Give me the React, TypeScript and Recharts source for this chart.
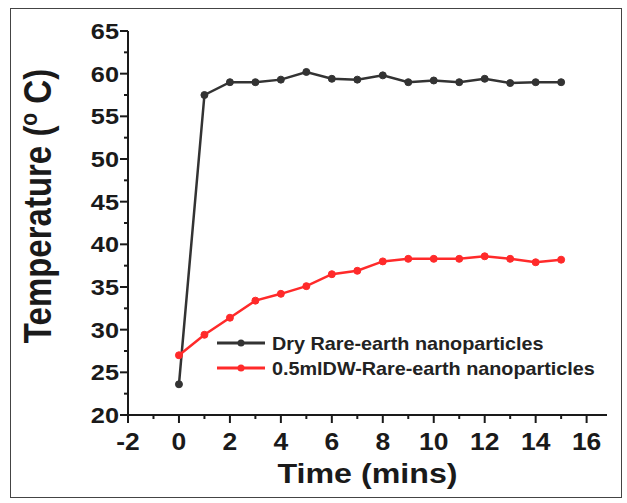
import React from 'react';
import { LineChart, Line, XAxis, YAxis, Legend } from 'recharts';

const times = [0, 1, 2, 3, 4, 5, 6, 7, 8, 9, 10, 11, 12, 13, 14, 15];
const dryTemps = [23.6, 57.5, 59.0, 59.0, 59.3, 60.2, 59.4, 59.3, 59.8, 59.0, 59.2, 59.0, 59.4, 58.9, 59.0, 59.0];
const wetTemps = [27.0, 29.4, 31.4, 33.4, 34.2, 35.1, 36.5, 36.9, 38.0, 38.3, 38.3, 38.3, 38.6, 38.3, 37.9, 38.2];
const xTicks = [-2, -1, 0, 1, 2, 3, 4, 5, 6, 7, 8, 9, 10, 11, 12, 13, 14, 15, 16];
const yTicks = [20, 22.5, 25, 27.5, 30, 32.5, 35, 37.5, 40, 42.5, 45, 47.5, 50, 52.5, 55, 57.5, 60, 62.5, 65];
const seriesNames = ['Dry Rare-earth nanoparticles', '0.5mlDW-Rare-earth nanoparticles'];
const seriesColors = ['#333333', '#ff2a2a'];

const data = times.map((t, i) => ({ t, dry: dryTemps[i], wet: wetTemps[i] }));

const FONT = 'Liberation Sans, Arial, sans-serif';
const AX = '#1a1a1a';
const SX = 1.15;

const XTick = (props: any) => {
  const { x, y, payload } = props;
  const v = payload.value;
  const major = v % 2 === 0;
  return (
    <g>
      <line x1={x} x2={x} y1={y} y2={y + (major ? 8 : 4)} stroke={AX} strokeWidth={2} />
      {major && (
        <text
          transform={`translate(${x},${y + 35}) scale(${SX},1)`}
          textAnchor="middle"
          fontFamily={FONT}
          fontWeight="bold"
          fontSize={23}
          fill={AX}
        >
          {v}
        </text>
      )}
    </g>
  );
};

const YTick = (props: any) => {
  const { x, y, payload } = props;
  const v = payload.value;
  const major = v % 5 === 0;
  return (
    <g>
      <line x1={x} x2={x - (major ? 8 : 4)} y1={y} y2={y} stroke={AX} strokeWidth={2} />
      {major && (
        <text
          transform={`translate(${x - 9},${y + 8}) scale(${SX},1)`}
          textAnchor="end"
          fontFamily={FONT}
          fontWeight="bold"
          fontSize={22}
          fill={AX}
        >
          {v}
        </text>
      )}
    </g>
  );
};

const YLabel = () => (
  <text
    transform={`translate(51,206) scale(${SX},1) rotate(-90)`}
    textAnchor="middle"
    fontFamily={FONT}
    fontWeight="bold"
    fontSize={33}
    fill={AX}
  >
    Temperature (
    <tspan fontSize={21} dy={-12}>o</tspan>
    <tspan dy={12}> C)</tspan>
  </text>
);

const XLabel = (props: any) => {
  const vb = props.viewBox || {};
  const cx = (vb.x || 0) + (vb.width || 0) / 2;
  return (
    <text
      transform={`translate(${cx},483) scale(${SX},1)`}
      textAnchor="middle"
      fontFamily={FONT}
      fontWeight="bold"
      fontSize={28}
      fill={AX}
    >
      Time (mins)
    </text>
  );
};

const LegendContent = () => (
  <svg width={380} height={60} style={{ overflow: 'visible' }}>
    {seriesNames.map((name, i) => {
      const cy = 15 + i * 25;
      return (
        <g key={name}>
          <line x1={7} x2={55} y1={cy} y2={cy} stroke={seriesColors[i]} strokeWidth={3} />
          <circle cx={31} cy={cy} r={3.5} fill={seriesColors[i]} />
          <text
            transform={`translate(62,${cy + 6.5}) scale(1.1,1)`}
            fontFamily={FONT}
            fontWeight="bold"
            fontSize={18}
            fill="#222"
          >
            {name}
          </text>
        </g>
      );
    })}
  </svg>
);

export default function App() {
  return (
    <div style={{ position: 'absolute', left: 0, top: 0, width: 627, height: 503, background: '#fff' }}>
      <div
        style={{
          position: 'absolute',
          left: 10,
          top: 8,
          width: 610,
          height: 488,
          border: '1.5px solid #444',
        }}
      />
      <div style={{ position: 'absolute', left: 0, top: 0 }}>
        <LineChart width={627} height={503} data={data} margin={{ top: 31, right: 20, bottom: 0, left: 0 }}>
          <XAxis
            dataKey="t"
            type="number"
            domain={[-2, 16.8]}
            ticks={xTicks}
            interval={0}
            height={88}
            tickSize={0}
            tickMargin={0}
            tickLine={false}
            tick={<XTick />}
            axisLine={{ stroke: AX, strokeWidth: 2 }}
            allowDataOverflow
            label={<XLabel />}
          />
          <XAxis
            xAxisId="top"
            orientation="top"
            type="number"
            domain={[-2, 16.8]}
            height={0}
            tick={false}
            tickLine={false}
            axisLine={{ stroke: AX, strokeWidth: 2 }}
          />
          <YAxis
            type="number"
            domain={[20, 65]}
            ticks={yTicks}
            interval={0}
            width={128}
            tickSize={0}
            tickMargin={0}
            tickLine={false}
            tick={<YTick />}
            axisLine={{ stroke: AX, strokeWidth: 2 }}
            label={<YLabel />}
          />
          <YAxis
            yAxisId="right"
            orientation="right"
            type="number"
            domain={[20, 65]}
            width={0}
            tick={false}
            tickLine={false}
            axisLine={{ stroke: AX, strokeWidth: 2 }}
          />
          <Legend
            layout="horizontal"
            verticalAlign="middle"
            align="center"
            content={<LegendContent />}
            wrapperStyle={{ position: 'absolute', left: 210, top: 328, width: 380, height: 60 }}
          />
          <Line
            dataKey="dry"
            name={seriesNames[0]}
            stroke={seriesColors[0]}
            strokeWidth={2.5}
            dot={{ r: 3.5, fill: seriesColors[0], stroke: seriesColors[0], strokeWidth: 1 }}
            isAnimationActive={false}
          />
          <Line
            dataKey="wet"
            name={seriesNames[1]}
            stroke={seriesColors[1]}
            strokeWidth={2.5}
            dot={{ r: 3.5, fill: seriesColors[1], stroke: seriesColors[1], strokeWidth: 1 }}
            isAnimationActive={false}
          />
        </LineChart>
      </div>
    </div>
  );
}
